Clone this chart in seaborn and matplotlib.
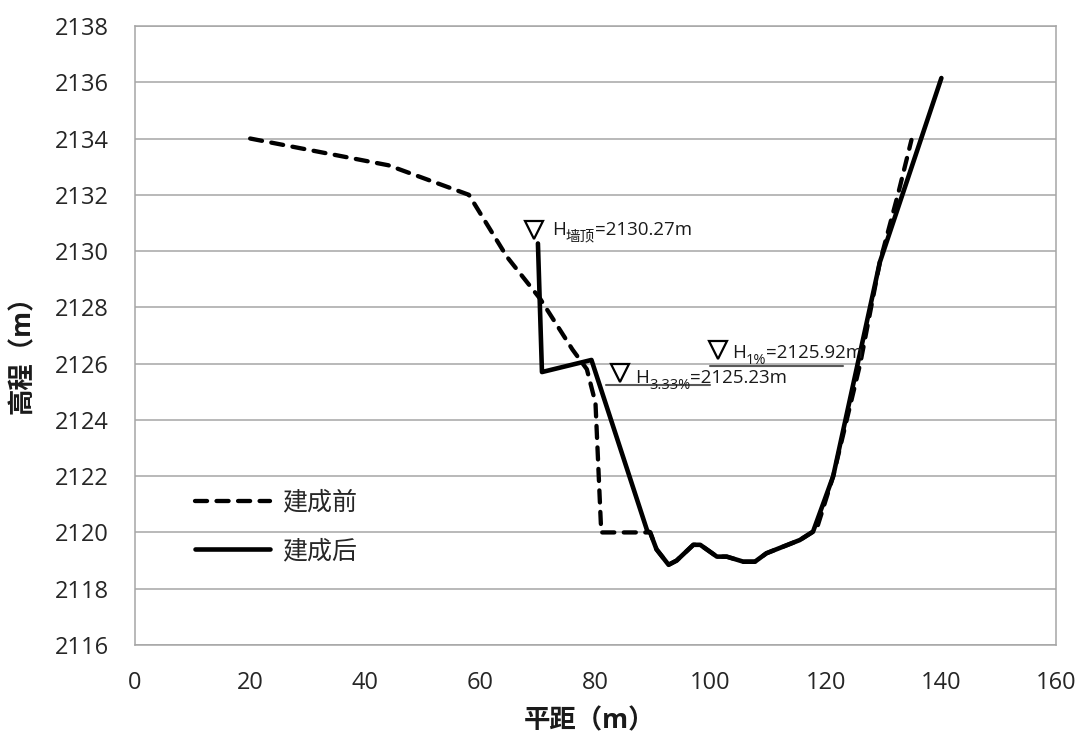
import matplotlib
matplotlib.use("Agg")
import matplotlib.pyplot as plt
import seaborn as sns

# 建成前 (before construction)
before_x = [20, 44, 58, 64.6, 70.4, 76, 78.5, 80, 81, 89.5,
            90.6, 92.7, 94.1, 97.0, 98.2, 101.1, 102.8, 105.7, 107.7, 109.7, 115.5,
            118.4, 121.3, 126, 129.4, 132.6, 134.9]
before_y = [2134, 2133.05, 2132, 2129.8, 2128.3, 2126.5, 2125.8, 2124.6, 2120, 2120,
            2119.4, 2118.85, 2119.0, 2119.56, 2119.56, 2119.14, 2119.14, 2118.96, 2118.96, 2119.26, 2119.73,
            2120.1, 2122, 2126, 2129.6, 2132.05, 2133.95]

# 建成后 (after construction)
after_x = [70, 70.7, 79.3, 89, 89.5, 90.6, 92.7, 94.1, 97.0, 98.2, 101.1, 102.8,
           105.7, 107.7, 109.7, 115.5, 117.8, 121.3, 129.4, 140.1]
after_y = [2130.27, 2125.7, 2126.13, 2120.05, 2120.0, 2119.4, 2118.85, 2119.0, 2119.56, 2119.56, 2119.14, 2119.14,
           2118.96, 2118.96, 2119.26, 2119.73, 2120.03, 2122.0, 2129.6, 2136.15]

# water levels: (subscript, value, line start, line end)
levels = [("1%", 2125.92, 99.9, 123.0), ("3.33%", 2125.23, 81.9, 99.9)]
wall_top = 2130.27

sns.set_theme(style="white")
plt.rcParams["font.family"] = ["Open Sans", "Noto Sans CJK SC", "DejaVu Sans"]

fig = plt.figure(figsize=(10.83, 7.40), dpi=100)
ax = fig.add_axes([0.1247, 0.1284, 0.8503, 0.8365])

sns.lineplot(x=before_x, y=before_y, sort=False, estimator=None, ax=ax, color="black",
             linewidth=3.1, linestyle=(0, (2.8, 2.2)), label="建成前", zorder=3)
sns.lineplot(x=after_x, y=after_y, sort=False, estimator=None, ax=ax, color="black",
             linewidth=3.3, label="建成后", zorder=4)
for ln in ax.lines:
    ln.set_dash_capstyle("round")
    ln.set_solid_capstyle("round")
    ln.set_solid_joinstyle("round")

ax.set_xlim(0, 160)
ax.set_ylim(2116, 2138)
ax.set_xticks(range(0, 161, 20))
ax.set_yticks(range(2116, 2139, 2))
ax.yaxis.grid(True, color="#a6a6a6", linewidth=1.1)
ax.xaxis.grid(False)
ax.set_axisbelow(True)
for s in ax.spines.values():
    s.set_color("#a6a6a6")
    s.set_linewidth(1.1)
ax.tick_params(axis="both", length=0, labelsize=17, labelcolor="#262626", pad=19)

ax.set_xlabel("平距（m）", fontsize=19, fontweight="bold", color="#1a1a1a")
ax.set_ylabel("高程（m）", fontsize=19, fontweight="bold", color="#1a1a1a")
ax.xaxis.set_label_coords(0.494, -0.1)
ax.yaxis.set_label_coords(-0.108, 0.48)


def level_label(tx, ty, sub, value):
    t1 = ax.text(tx, ty, "H", fontsize=13.5, color="#1a1a1a", va="baseline", zorder=5)
    t2 = ax.annotate(sub, xy=(1, 0.12), xycoords=t1, fontsize=10.5, color="#1a1a1a",
                     va="center", ha="left", zorder=5)
    ax.annotate(f"={value:.2f}m", xy=(1, 0), xycoords=(t2, t1), fontsize=13.5,
                color="#1a1a1a", va="bottom", ha="left", zorder=5)


tri = dict(marker="v", markersize=13, markerfacecolor="white", markeredgecolor="black",
           markeredgewidth=1.6, linestyle="none", zorder=6)

# wall top
ax.plot([69.3], [2130.75], **tri)
level_label(72.4, 2130.57, "墙顶", wall_top)

# water levels
tri_pos = [(101.3, 2126.49), (84.3, 2125.67)]
text_pos = [(103.7, 2126.19), (86.9, 2125.3)]
for (sub, val, x0, x1), (px, py), (tx, ty) in zip(levels, tri_pos, text_pos):
    ax.plot([x0, x1], [val, val], color="#595959", linewidth=1.5, zorder=2)
    ax.plot([px], [py], **tri)
    level_label(tx, ty, sub, val)

ax.legend(loc="center left", bbox_to_anchor=(0.065, 0.19), frameon=False, fontsize=18,
          handlelength=3.0, handletextpad=0.5, labelspacing=0.95, borderpad=0, borderaxespad=0)

fig.savefig("out.png", dpi=100)
